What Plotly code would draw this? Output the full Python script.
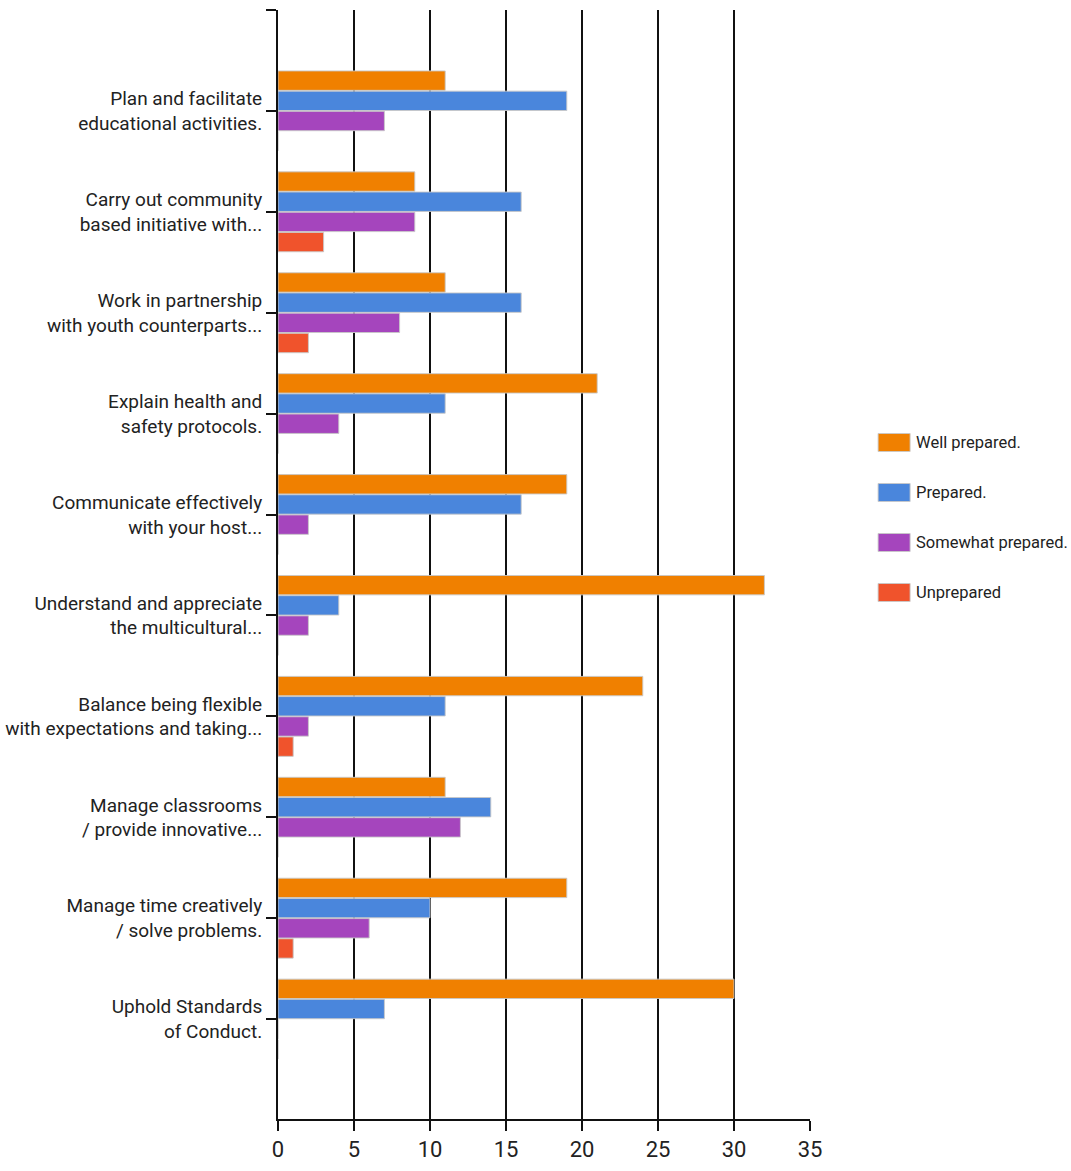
import plotly.graph_objects as go

categories = [
    "Plan and facilitate<br>educational activities.",
    "Carry out community<br>based initiative with...",
    "Work in partnership<br>with youth counterparts...",
    "Explain health and<br>safety protocols.",
    "Communicate effectively<br>with your host...",
    "Understand and appreciate<br>the multicultural...",
    "Balance being flexible<br>with expectations and taking...",
    "Manage classrooms<br>/ provide innovative...",
    "Manage time creatively<br>/ solve problems.",
    "Uphold Standards<br>of Conduct.",
]

series_names = ["Well prepared.", "Prepared.", "Somewhat prepared.", "Unprepared"]
well_prepared = [11, 9, 11, 21, 19, 32, 24, 11, 19, 30]
prepared = [19, 16, 16, 11, 16, 4, 11, 14, 10, 7]
somewhat_prepared = [7, 9, 8, 4, 2, 2, 2, 12, 6, 0]
unprepared = [0, 3, 2, 0, 0, 0, 1, 0, 1, 0]
series_values = [well_prepared, prepared, somewhat_prepared, unprepared]
series_colors = ["#f08000", "#4a86dc", "#a545bd", "#f0532c"]

x_ticks = [0, 5, 10, 15, 20, 25, 30, 35]

FONT = "Roboto, Liberation Sans, sans-serif"

positions = list(range(len(categories)))

fig = go.Figure()
for name, vals, col in zip(series_names, series_values, series_colors):
    fig.add_trace(go.Bar(
        x=vals, y=positions, orientation="h", name=name,
        marker=dict(color=col, line=dict(color="rgba(200,200,200,0.9)", width=1)),
        showlegend=False,
    ))

# hand-built legend on the right
leg_x0 = 1.128
leg_top = 0.610
step = 50 / 1109
for i, (name, col) in enumerate(zip(series_names, series_colors)):
    yc = leg_top - i * step
    fig.add_shape(type="rect", xref="paper", yref="paper",
                  x0=leg_x0, x1=leg_x0 + 32 / 532,
                  y0=yc - 9 / 1109, y1=yc + 9 / 1109,
                  fillcolor=col, line=dict(color="rgba(200,200,200,0.9)", width=1))
    fig.add_annotation(xref="paper", yref="paper", x=leg_x0 + 36 / 532, y=yc,
                       text=name, showarrow=False, xanchor="left", yanchor="middle",
                       font=dict(family=FONT, size=16.5, color="#222222"))

fig.update_layout(
    barmode="group",
    bargap=0.2,
    bargroupgap=0.04,
    width=1071, height=1171,
    margin=dict(l=278, r=261, t=10, b=52),
    paper_bgcolor="white", plot_bgcolor="white",
    font=dict(family=FONT, size=19, color="#222222"),
    xaxis=dict(
        range=[0, 35], tickvals=x_ticks, ticktext=[str(v) for v in x_ticks],
        showgrid=True, gridcolor="#111111", gridwidth=1.5,
        zeroline=False, showline=True, linecolor="#111111", linewidth=2,
        ticks="outside", ticklen=10, tickcolor="#111111", tickwidth=1.5,
        tickfont=dict(size=22), automargin=False,
    ),
    yaxis=dict(
        range=[9.99, -1], tickvals=list(range(-1, 11)),
        ticktext=[""] + categories + [""],
        showgrid=False, zeroline=False, showline=True, linecolor="#111111", linewidth=2,
        ticks="outside", ticklen=10, tickcolor="#111111", tickwidth=1.5,
        tickfont=dict(size=19), automargin=False,
    ),
)

fig.write_html("out.html")
